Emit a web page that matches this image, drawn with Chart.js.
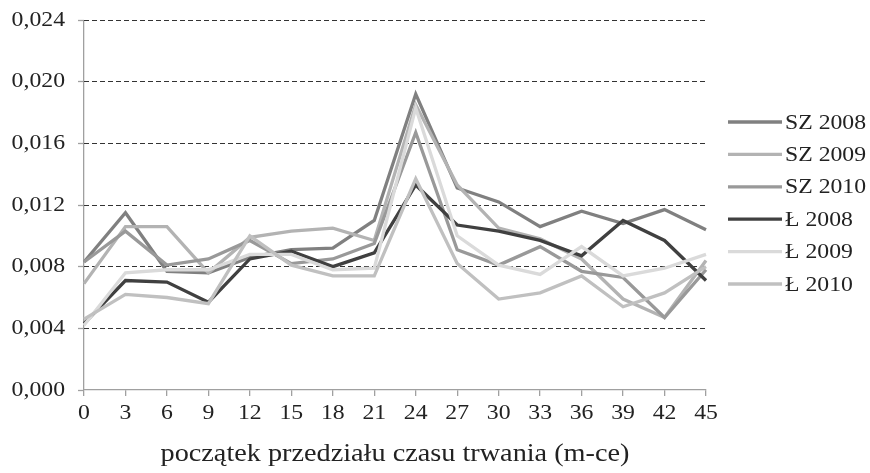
<!DOCTYPE html>
<html>
<head>
<meta charset="utf-8">
<script src="https://cdn.jsdelivr.net/npm/chart.js@4"></script>
<style>
html,body{margin:0;padding:0;background:#fff;}
#wrap{position:relative;width:870px;height:473px;}
</style>
</head>
<body>
<div id="wrap"><canvas id="c"></canvas></div>
<script>
const categories = ['0','3','6','9','12','15','18','21','24','27','30','33','36','39','42','45'];
const seriesNames = ['SZ 2008','SZ 2009','SZ 2010','Ł 2008','Ł 2009','Ł 2010'];
const sz2008 = [0.0083,0.0115,0.0077,0.0076,0.0086,0.0091,0.0092,0.0110,0.0192,0.0131,0.0122,0.0106,0.0116,0.0108,0.0117,0.0104];
const sz2009 = [0.0069,0.0106,0.0106,0.0076,0.0099,0.0103,0.0105,0.0097,0.0185,0.0133,0.0105,0.0098,0.0085,0.0059,0.0047,0.0084];
const sz2010 = [0.0083,0.0103,0.0081,0.0085,0.0097,0.0082,0.0085,0.0095,0.0167,0.0091,0.0081,0.0093,0.0077,0.0073,0.0047,0.0078];
const l2008  = [0.0043,0.0071,0.0070,0.0057,0.0085,0.0090,0.0080,0.0089,0.0133,0.0107,0.0103,0.0097,0.0087,0.0110,0.0097,0.0071];
const l2009  = [0.0042,0.0076,0.0078,0.0078,0.0088,0.0088,0.0078,0.0079,0.0183,0.0100,0.0081,0.0075,0.0093,0.0074,0.0079,0.0088];
const l2010  = [0.0046,0.0062,0.0060,0.0056,0.0100,0.0081,0.0074,0.0074,0.0137,0.0082,0.0059,0.0063,0.0074,0.0054,0.0063,0.0080];
const yTicks = [0,0.004,0.008,0.012,0.016,0.020,0.024];
const xTitle = 'początek przedziału czasu trwania (m-ce)';

const colors = ['#808080','#b3b3b3','#999999','#404040','#dadada','#c0c0c0'];
const FONT = 'Liberation Serif';
const FS = 21;
const TEXT_STRETCH = 1.13;
const allSeries = [sz2008, sz2009, sz2010, l2008, l2009, l2010];

const datasets = allSeries.map((d, i) => ({
  label: seriesNames[i],
  data: d,
  borderColor: colors[i],
  backgroundColor: colors[i],
  borderWidth: 3.3,
  pointRadius: 0,
  tension: 0,
  order: 6 - i
}));

// draw text slightly wider, as in the reference picture
const stretchText = {
  id: 'stretchText',
  beforeDraw(chart) {
    const ctx = chart.ctx;
    if (ctx.__patched) return;
    ctx.__patched = true;
    const native = CanvasRenderingContext2D.prototype.fillText;
    ctx.fillText = function (t, x, y, maxW) {
      this.save();
      this.translate(x, y);
      this.scale(TEXT_STRETCH, 1);
      if (maxW === undefined) native.call(this, t, 0, 0);
      else native.call(this, t, 0, 0, maxW);
      this.restore();
    };
  }
};

const legendPlugin = {
  id: 'customLegend',
  afterDraw(chart) {
    const ctx = chart.ctx;
    ctx.save();
    ctx.font = FS + 'px "' + FONT + '"';
    ctx.textBaseline = 'middle';
    ctx.textAlign = 'left';
    chart.data.datasets.forEach((ds, i) => {
      const y = 122 + i * 32.4;
      ctx.strokeStyle = ds.borderColor;
      ctx.lineWidth = 3.3;
      ctx.beginPath();
      ctx.moveTo(728, y);
      ctx.lineTo(782, y);
      ctx.stroke();
      ctx.fillStyle = '#222';
      ctx.fillText(ds.label, 785, y + 1);
    });
    ctx.restore();
  }
};

new Chart(document.getElementById('c'), {
  type: 'line',
  data: { labels: categories, datasets },
  plugins: [stretchText, legendPlugin],
  options: {
    responsive: true,
    maintainAspectRatio: false,
    animation: false,
    layout: { padding: { top: 20, right: 164, bottom: 0, left: 0 } },
    plugins: { legend: { display: false }, tooltip: { enabled: false } },
    scales: {
      x: {
        type: 'category',
        offset: false,
        afterFit: s => { s.height = 83; },
        grid: {
          drawOnChartArea: true,
          color: ctx => ctx.index === 0 ? '#a0a0a0' : 'rgba(0,0,0,0)',
          lineWidth: 1.3,
          drawTicks: true, tickLength: 6, tickColor: '#a0a0a0', tickWidth: 1.3
        },
        border: { color: '#a0a0a0', width: 1.3 },
        ticks: { color: '#222', font: { family: FONT, size: FS }, padding: 5, maxRotation: 0, autoSkip: false },
        title: { display: true, text: xTitle, color: '#222', font: { family: FONT, size: 25 }, padding: { top: 0, bottom: 4 } }
      },
      y: {
        min: 0, max: 0.024,
        afterBuildTicks: s => { s.ticks = yTicks.map(v => ({ value: v })); },
        afterFit: s => { s.width = 84; s.paddingTop = 0; s.paddingBottom = 0; },
        grid: {
          color: ctx => ctx.tick && ctx.tick.value === 0 ? 'rgba(0,0,0,0)' : '#333',
          lineWidth: 1,
          drawTicks: true,
          tickLength: 6,
          tickColor: '#a0a0a0',
          tickBorderDash: [],
          tickWidth: 1.3
        },
        border: { display: false, color: '#a0a0a0', width: 1.3, dash: [5, 3] },
        ticks: {
          color: '#222',
          font: { family: FONT, size: FS },
          padding: 13,
          callback: v => v.toFixed(3).replace('.', ',')
        }
      }
    }
  }
});
</script>
</body>
</html>
